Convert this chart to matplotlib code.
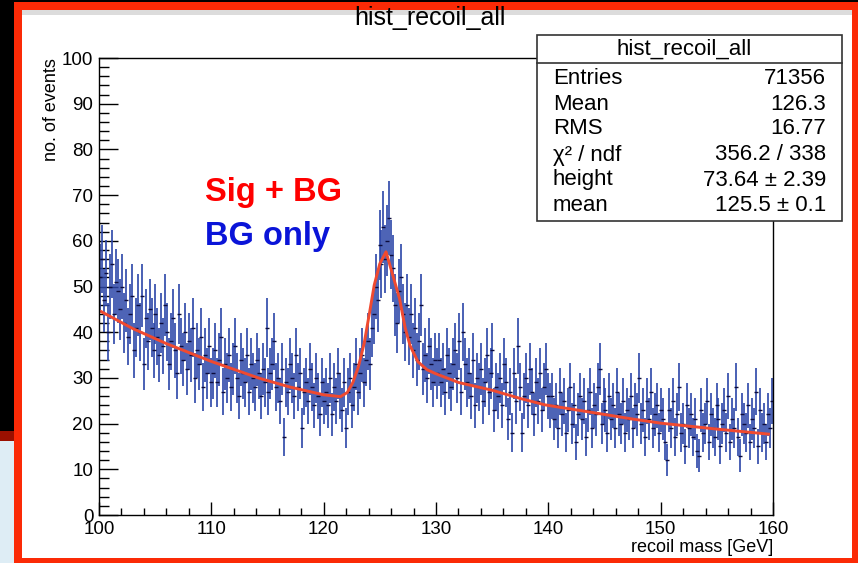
import numpy as np
import matplotlib.pyplot as plt
from matplotlib.patches import Rectangle
from matplotlib.lines import Line2D

plt.rcParams['font.family'] = ['Liberation Sans', 'DejaVu Sans']

# histogram contents, 340 bins from 100 to 160 GeV
counts_100_110 = [52, 56, 47, 53, 40, 50, 55, 44, 51, 49,
                  45, 50, 42, 47, 39, 44, 48, 36, 41, 46,
                  40, 48, 33, 43, 38, 45, 41, 36, 44, 39,
                  35, 42, 37, 46, 40, 33, 38, 43, 36, 31,
                  44, 37, 34, 40, 32, 38, 35, 41, 30, 36,
                  33, 39, 28, 35, 31, 37, 29]
counts_110_120 = [31, 36, 29, 34, 39, 27, 33, 30, 35, 28,
                  32, 37, 30, 26, 34, 31, 29, 35, 27, 33,
                  30, 28, 34, 31, 26, 32, 29, 41, 27, 31,
                  33, 38, 28, 30, 25, 32, 17, 29, 27, 33,
                  30, 26, 35, 28, 31, 19, 27, 29, 25, 32,
                  28, 24, 30, 26, 22, 29, 25]
counts_120_130 = [27, 24, 30, 22, 28, 25, 31, 26, 23, 29,
                  19, 27, 30, 24, 28, 33, 27, 31, 35, 29,
                  34, 38, 33, 41, 44, 50, 47, 59, 55, 63,
                  56, 60, 65, 57, 54, 46, 42, 49, 52, 44,
                  40, 46, 39, 44, 36, 41, 34, 38, 46, 32,
                  35, 30, 37, 33, 29, 34, 31]
counts_130_140 = [34, 29, 32, 27, 35, 31, 28, 33, 36, 30,
                  38, 27, 40, 33, 29, 31, 26, 34, 24, 30,
                  28, 32, 25, 29, 35, 27, 31, 36, 23, 28,
                  26, 30, 24, 33, 29, 21, 27, 18, 31, 25,
                  37, 28, 18, 26, 30, 24, 32, 27, 22, 29,
                  25, 31, 23, 28, 32, 26, 24]
counts_140_150 = [26, 21, 24, 19, 27, 22, 25, 18, 23, 28,
                  20, 24, 16, 22, 26, 21, 25, 17, 23, 27,
                  19, 24, 22, 28, 32, 20, 25, 23, 18, 26,
                  21, 24, 19, 27, 22, 20, 25, 18, 23, 21,
                  26, 19, 24, 22, 30, 20, 23, 17, 25, 21,
                  27, 19, 22, 24, 18, 23]
counts_150_160 = [21, 16, 12, 23, 19, 25, 17, 22, 28, 18,
                  20, 15, 24, 19, 22, 17, 21, 14, 13, 23,
                  18, 20, 25, 16, 22, 19, 17, 24, 21, 15,
                  20, 23, 18, 26, 16, 21, 19, 28, 17, 13,
                  22, 20, 18, 24, 16, 21, 19, 27, 15, 23,
                  18, 20, 16, 22, 19, 25]

# fitted curve (sig + bg)
fit_x = [100.2, 103, 106, 110, 114.3, 117, 120, 121.5, 122.1, 122.6, 123.1,
         123.6, 124.1, 124.5, 125.0, 125.55, 126.15, 126.75, 127.25, 127.7,
         128.4, 129.2, 129.9, 132, 135, 137.5, 139.7, 142.5, 145, 147.5,
         150, 155, 159.6]
fit_y = [44.5, 40.8, 37.5, 33.6, 29.9, 28, 26.3, 25.9, 26.8, 29.0, 32.5,
         37.5, 44.5, 50.3, 55, 57.6, 52.5, 47.4, 41.0, 37.0,
         33.5, 31.8, 31.0, 29, 27.3, 25.5, 24.1, 23, 22, 21,
         20.1, 18.8, 17.7]

stat_labels = ['Entries', 'Mean', 'RMS', '\u03c7\u00b2 / ndf', 'height', 'mean']
stat_values = ['71356', '126.3', '16.77', '356.2 / 338', '73.64 \u00b1 2.39', '125.5 \u00b1 0.1']

counts = np.array(counts_100_110 + counts_110_120 + counts_120_130 +
                  counts_130_140 + counts_140_150 + counts_150_160, dtype=float)
nbins = len(counts)
edges = np.linspace(100, 160, nbins + 1)
centers = 0.5 * (edges[1:] + edges[:-1])

W, H = 858, 563
def fx(px):
    return px / W
def fy(py):
    return 1 - py / H

fig = plt.figure(figsize=(W / 100, H / 100), dpi=100)
fig.patch.set_facecolor('black')

# screenshot surroundings
fig.add_artist(Rectangle((fx(0), fy(563)), fx(14), (563 - 441) / H, transform=fig.transFigure,
                         facecolor='#deedf5', edgecolor='none', zorder=0))
fig.add_artist(Rectangle((fx(0), fy(441)), fx(14), 10 / H, transform=fig.transFigure,
                         facecolor='#9a1000', edgecolor='none', zorder=0))
fig.add_artist(Rectangle((fx(14), fy(563)), fx(858 - 14), (563 - 2) / H, transform=fig.transFigure,
                         facecolor='#fb2a06', edgecolor='none', zorder=0))
fig.add_artist(Rectangle((fx(22), fy(558)), fx(852 - 22), (558 - 10) / H, transform=fig.transFigure,
                         facecolor='white', edgecolor='none', zorder=0))
fig.add_artist(Rectangle((fx(22), fy(15)), fx(852 - 22), 5 / H, transform=fig.transFigure,
                         facecolor='#dcdcdc', edgecolor='none', zorder=0))

ax = fig.add_axes([fx(99), fy(515), (773 - 99) / W, (515 - 58) / H])
ax.set_facecolor('white')

ax.errorbar(centers, counts, yerr=np.sqrt(counts), fmt='none', ecolor='#2b45a8', elinewidth=1.2)
ax.plot(centers, counts, ls='none', marker='_', ms=3.5, mew=1.0, color='#0c0c3c')
ax.plot(fit_x, fit_y, color='#f04a30', lw=2.1)

ax.set_xlim(100, 160)
ax.set_ylim(0, 100)
ax.set_xticks(np.arange(100, 161, 10))
ax.set_xticks(np.arange(100, 161, 2), minor=True)
ax.set_yticks(np.arange(0, 101, 10))
ax.set_yticks(np.arange(0, 101, 2), minor=True)
ax.tick_params(axis='both', which='both', direction='in', labelsize=13.5, colors='black')
ax.tick_params(axis='y', which='major', length=14, width=1, pad=4)
ax.tick_params(axis='y', which='minor', length=7, width=1)
ax.tick_params(axis='x', which='major', length=9.5, width=1, pad=4)
ax.tick_params(axis='x', which='minor', length=4.7, width=1)
for s in ax.spines.values():
    s.set_linewidth(1)
    s.set_color('black')

fig.text(fx(52), fy(58), 'no. of events', rotation=90, ha='center', va='top', fontsize=13)
fig.text(fx(773), fy(548), 'recoil mass [GeV]', ha='right', va='center', fontsize=13)
fig.text(fx(430), fy(18), 'hist_recoil_all', ha='center', va='center', fontsize=18)

fig.text(fx(205), fy(192), 'Sig + BG', color='#ff0000', fontsize=23.5, fontweight='bold', va='center')
fig.text(fx(205), fy(236), 'BG only', color='#0a14d8', fontsize=23.5, fontweight='bold', va='center')

# stats box
fig.add_artist(Rectangle((fx(537), fy(221)), fx(842 - 537), (221 - 35) / H, transform=fig.transFigure,
                         facecolor='white', edgecolor='#333333', lw=1.2, zorder=5))
fig.add_artist(Line2D([fx(537), fx(842)], [fy(63), fy(63)], transform=fig.transFigure,
                      color='#333333', lw=1.2, zorder=6))
fig.text(fx(684), fy(49), 'hist_recoil_all', ha='center', va='center', fontsize=16, zorder=7)
row_y = [78, 104, 129, 155, 180, 205]
for lab, val, yy in zip(stat_labels, stat_values, row_y):
    fig.text(fx(553), fy(yy), lab, ha='left', va='center', fontsize=16, zorder=7)
    fig.text(fx(826), fy(yy), val, ha='right', va='center', fontsize=16, zorder=7)

fig.savefig('out.png', dpi=100, facecolor=fig.get_facecolor())
